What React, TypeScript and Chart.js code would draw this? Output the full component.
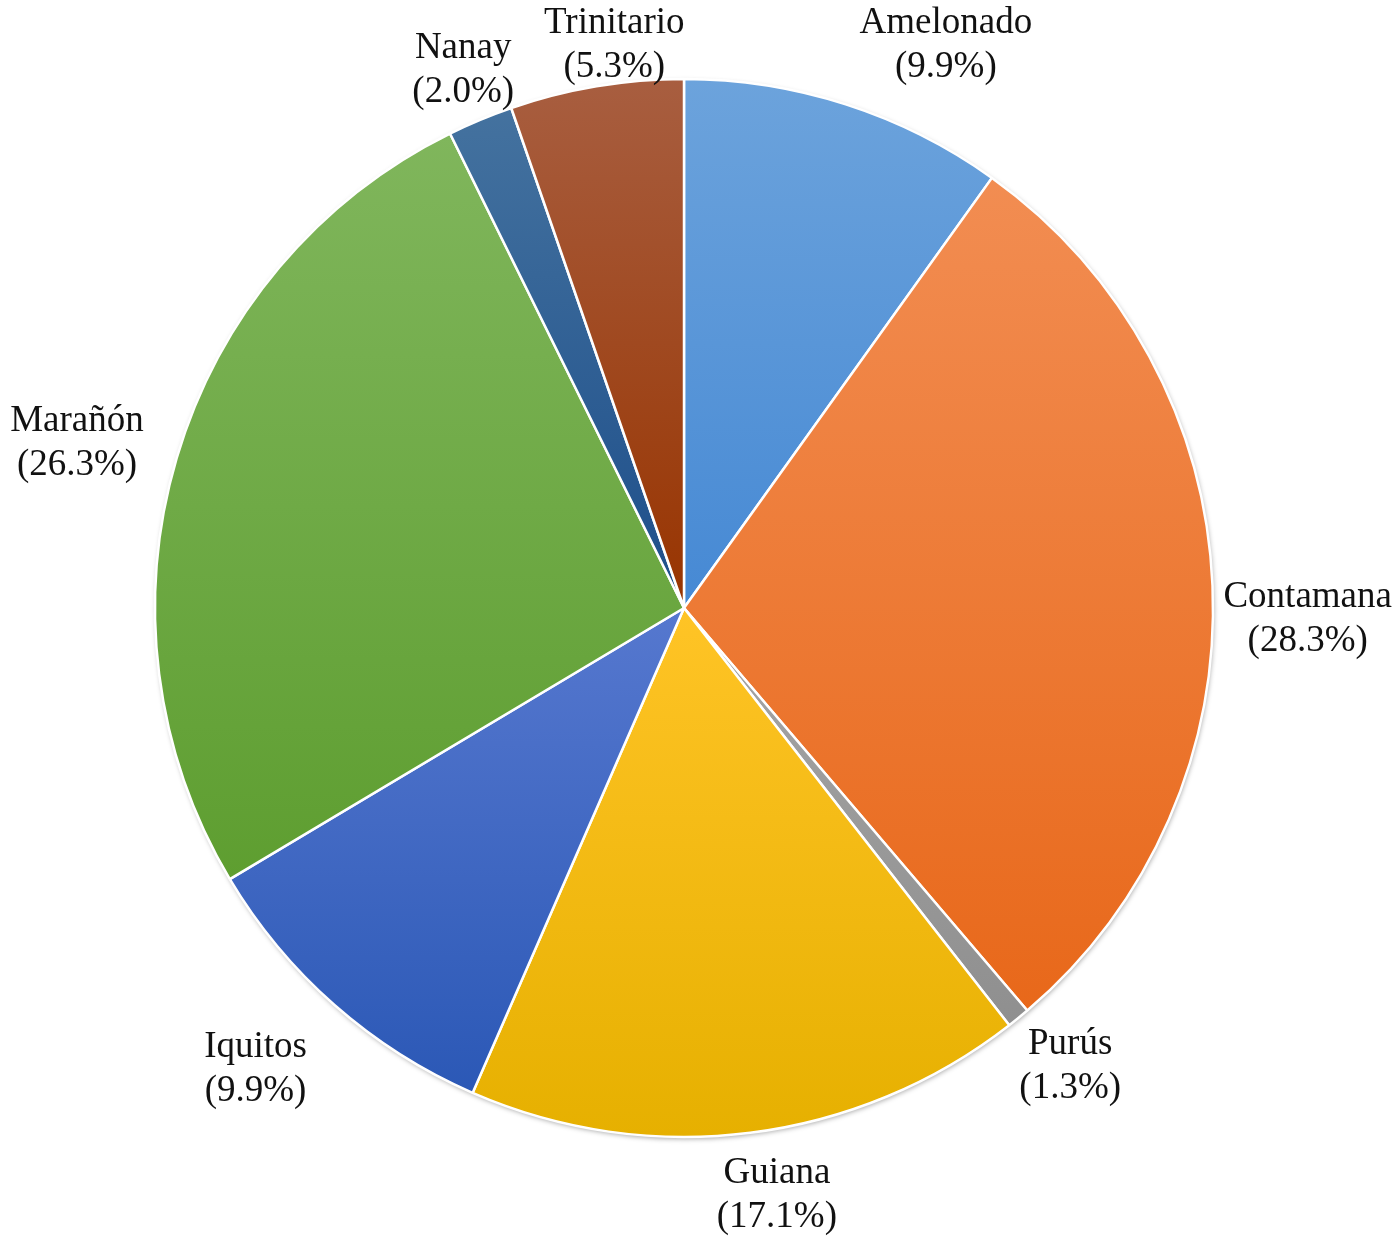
import React, { useEffect, useRef } from "react";
import { Chart, registerables } from "chart.js";

Chart.register(...registerables);

const categories = ["Amelonado", "Contamana", "Purús", "Guiana", "Iquitos", "Marañón", "Nanay", "Trinitario"];
// slice shares as drawn in the picture
const sliceShares = [9.9, 28.9, 0.7, 17.1, 9.9, 26.3, 2.0, 5.3];
// percentage text as printed on the labels
const percentLabels = ["9.9%", "28.3%", "1.3%", "17.1%", "9.9%", "26.3%", "2.0%", "5.3%"];
const colorTop = ["#6ca3dc", "#f28d52", "#a6a6a6", "#ffc426", "#5678cf", "#80b65c", "#44729f", "#a85e40"];
const colorBottom = ["#4689d4", "#e8681a", "#8f8f8f", "#e6b000", "#2b58b6", "#5e9e30", "#1d4e8a", "#983400"];

const RADIUS = 529;
const LABEL_GAP = 9;
const FONT = '37px "Liberation Serif"';
const LINE_H = 44;
// small best-fit nudges for the outside labels (px)
const LABEL_NUDGE: [number, number][] = [
  [71, -9], [2, 36], [14, 7], [18, 10], [-39, 24], [-27, 0], [6, -1], [31, 11],
];

function sliceAngles(i: number) {
  const total = sliceShares.reduce((a, b) => a + b, 0);
  let start = -Math.PI / 2;
  for (let j = 0; j < i; j++) start += (sliceShares[j] / total) * Math.PI * 2;
  const end = start + (sliceShares[i] / total) * Math.PI * 2;
  return { start, end };
}

const shadowPlugin = {
  id: "pieShadow",
  beforeDatasetsDraw(chart: any) {
    const meta = chart.getDatasetMeta(0);
    const arc = meta.data[0];
    if (!arc) return;
    const { x, y, outerRadius } = arc.getProps(["x", "y", "outerRadius"], true);
    const ctx = chart.ctx;
    ctx.save();
    ctx.shadowColor = "rgba(0,0,0,0.35)";
    ctx.shadowBlur = 5;
    ctx.shadowOffsetX = 1;
    ctx.shadowOffsetY = 2;
    ctx.fillStyle = "#ffffff";
    ctx.beginPath();
    ctx.arc(x, y, outerRadius, 0, Math.PI * 2);
    ctx.fill();
    ctx.restore();
  },
};

const labelPlugin = {
  id: "outsideLabels",
  afterDatasetsDraw(chart: any) {
    const ctx = chart.ctx;
    const meta = chart.getDatasetMeta(0);
    ctx.save();
    ctx.font = FONT + ', "Times New Roman", serif';
    ctx.fillStyle = "#111111";
    ctx.textAlign = "center";
    ctx.textBaseline = "middle";
    meta.data.forEach((arc: any, i: number) => {
      const { x, y, startAngle, endAngle, outerRadius } = arc.getProps(
        ["x", "y", "startAngle", "endAngle", "outerRadius"],
        true
      );
      const mid = (startAngle + endAngle) / 2;
      const ux = Math.cos(mid);
      const uy = Math.sin(mid);
      const lines = [categories[i], "(" + percentLabels[i] + ")"];
      const w = Math.max(...lines.map((l) => ctx.measureText(l).width));
      const h = LINE_H * lines.length;
      const nudge = LABEL_NUDGE[i] || [0, 0];
      const bx = x + ux * (outerRadius + LABEL_GAP) + (ux * w) / 2 + nudge[0];
      const by = y + uy * (outerRadius + LABEL_GAP) + (uy * h) / 2 + nudge[1];
      ctx.fillText(lines[0], bx, by - LINE_H / 2);
      ctx.fillText(lines[1], bx, by + LINE_H / 2);
    });
    ctx.restore();
  },
};

export default function App() {
  const ref = useRef<HTMLCanvasElement | null>(null);

  useEffect(() => {
    document.body.style.margin = "0";
    const canvas = ref.current;
    if (!canvas) return;
    const chart = new Chart(canvas, {
      type: "pie",
      data: {
        labels: categories,
        datasets: [
          {
            data: sliceShares,
            borderColor: "#ffffff",
            borderWidth: 2.5,
            backgroundColor: (c: any) => {
              const i = c.dataIndex;
              if (i === undefined) return colorBottom[0];
              const chartRef = c.chart;
              const area = chartRef.chartArea;
              if (!area) return colorBottom[i];
              const cx = (area.left + area.right) / 2;
              const cy = (area.top + area.bottom) / 2;
              const { start, end } = sliceAngles(i);
              const ys = [cy, cy + RADIUS * Math.sin(start), cy + RADIUS * Math.sin(end)];
              [-Math.PI / 2, Math.PI / 2, (3 * Math.PI) / 2].forEach((k) => {
                if (k >= start && k <= end) ys.push(cy + RADIUS * Math.sin(k));
              });
              const y0 = Math.min(...ys);
              const y1 = Math.max(...ys);
              const g = chartRef.ctx.createLinearGradient(cx, y0, cx, y1 + 0.01);
              g.addColorStop(0, colorTop[i]);
              g.addColorStop(1, colorBottom[i]);
              return g;
            },
          },
        ],
      },
      options: {
        responsive: false,
        animation: false,
        radius: RADIUS,
        layout: { padding: { left: 0, right: 32, top: 0, bottom: 23 } },
        plugins: {
          legend: { display: false },
          tooltip: { enabled: false },
        },
      } as any,
      plugins: [shadowPlugin, labelPlugin],
    });
    let alive = true;
    if ((document as any).fonts && (document as any).fonts.load) {
      (document as any).fonts
        .load(FONT, "Amelonado Marañón Purús (28.3%)")
        .then(() => {
          if (alive) chart.draw();
        })
        .catch(() => {});
    }
    return () => {
      alive = false;
      chart.destroy();
    };
  }, []);

  return (
    <div style={{ width: 1400, height: 1239, background: "#ffffff" }}>
      <canvas ref={ref} width={1400} height={1239} style={{ display: "block" }} />
    </div>
  );
}
